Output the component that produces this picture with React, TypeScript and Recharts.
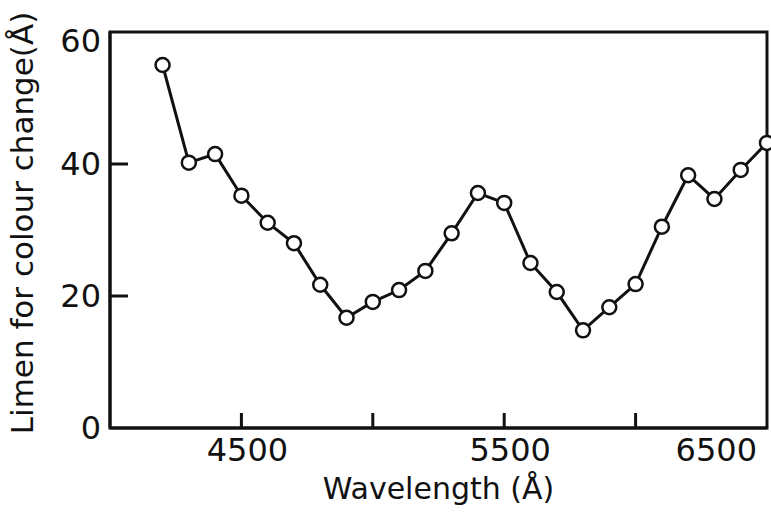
import { LineChart, Line, XAxis, YAxis, ReferenceArea } from 'recharts';

const wavelengths = [
  4200, 4300, 4400, 4500, 4600, 4700, 4800, 4900, 5000, 5100, 5200, 5300,
  5400, 5500, 5600, 5700, 5800, 5900, 6000, 6100, 6200, 6300, 6400, 6500,
];
const limen = [
  55.0, 40.2, 41.5, 35.2, 31.1, 28.0, 21.7, 16.7, 19.1, 20.9, 23.8, 29.5,
  35.6, 34.1, 25.0, 20.6, 14.8, 18.3, 21.8, 30.5, 38.3, 34.7, 39.1, 43.2,
];
const xTicks = [4500, 5000, 5500, 6000, 6500];
const xLabels = [4500, 5500, 6500];
const yTicks = [0, 20, 40, 60];

const data = wavelengths.map((w, i) => ({ w, v: limen[i] }));

const FONT = '"DejaVu Sans", sans-serif';
const INK = '#111';

function XTick(props: any) {
  const { x, y, payload } = props;
  const v = payload.value;
  const last = v === xTicks[xTicks.length - 1];
  return (
    <g>
      {!last && <line x1={x} x2={x} y1={y - 15} y2={y} stroke={INK} strokeWidth={3} />}
      {xLabels.includes(v) && (
        <text
          x={last ? x + 2 : x + 6}
          y={y + 33}
          textAnchor={last ? 'end' : 'middle'}
          fontSize={32}
          fontFamily={FONT}
          fill={INK}
        >
          {v}
        </text>
      )}
    </g>
  );
}

function YTick(props: any) {
  const { x, y, payload } = props;
  const v = payload.value;
  const top = v === yTicks[yTicks.length - 1];
  return (
    <g>
      {v !== 0 && !top && <line x1={x} x2={x + 18} y1={y} y2={y} stroke={INK} strokeWidth={3} />}
      <text
        x={x - 9}
        y={top ? y + 9 : y}
        dy={11}
        textAnchor="end"
        fontSize={32}
        fontFamily={FONT}
        fill={INK}
      >
        {v}
      </text>
    </g>
  );
}

export default function App() {
  return (
    <div style={{ position: 'absolute', left: 0, top: 0, background: '#fff' }}>
      <LineChart
        width={771}
        height={517}
        data={data}
        margin={{ top: 32, right: 4, bottom: 0, left: 0 }}
      >
        <XAxis
          dataKey="w"
          type="number"
          domain={[4000, 6500]}
          ticks={xTicks}
          height={89}
          tickSize={0}
          tickMargin={0}
          tickLine={false}
          tick={<XTick />}
          stroke={INK}
          strokeWidth={3}
          label={{
            value: 'Wavelength (Å)',
            position: 'insideBottom',
            offset: 18,
            fontSize: 30,
            fontFamily: FONT,
            fill: INK,
          }}
        />
        <YAxis
          domain={[0, 60]}
          ticks={yTicks}
          width={110}
          tickSize={0}
          tickMargin={0}
          tickLine={false}
          tick={<YTick />}
          stroke={INK}
          strokeWidth={3}
          label={{
            value: 'Limen for colour change(Å)',
            angle: -90,
            position: 'insideLeft',
            offset: 22,
            dy: -7,
            fontSize: 31,
            fontFamily: FONT,
            fill: INK,
            style: { textAnchor: 'middle' },
          }}
        />
        <ReferenceArea
          x1={4000}
          x2={6500}
          y1={0}
          y2={60}
          fill="none"
          fillOpacity={0}
          stroke={INK}
          strokeWidth={3}
          strokeOpacity={1}
        />
        <Line
          dataKey="v"
          type="linear"
          stroke={INK}
          strokeWidth={3}
          dot={{ r: 7, fill: '#fff', stroke: INK, strokeWidth: 2.5 }}
          isAnimationActive={false}
        />
      </LineChart>
    </div>
  );
}
